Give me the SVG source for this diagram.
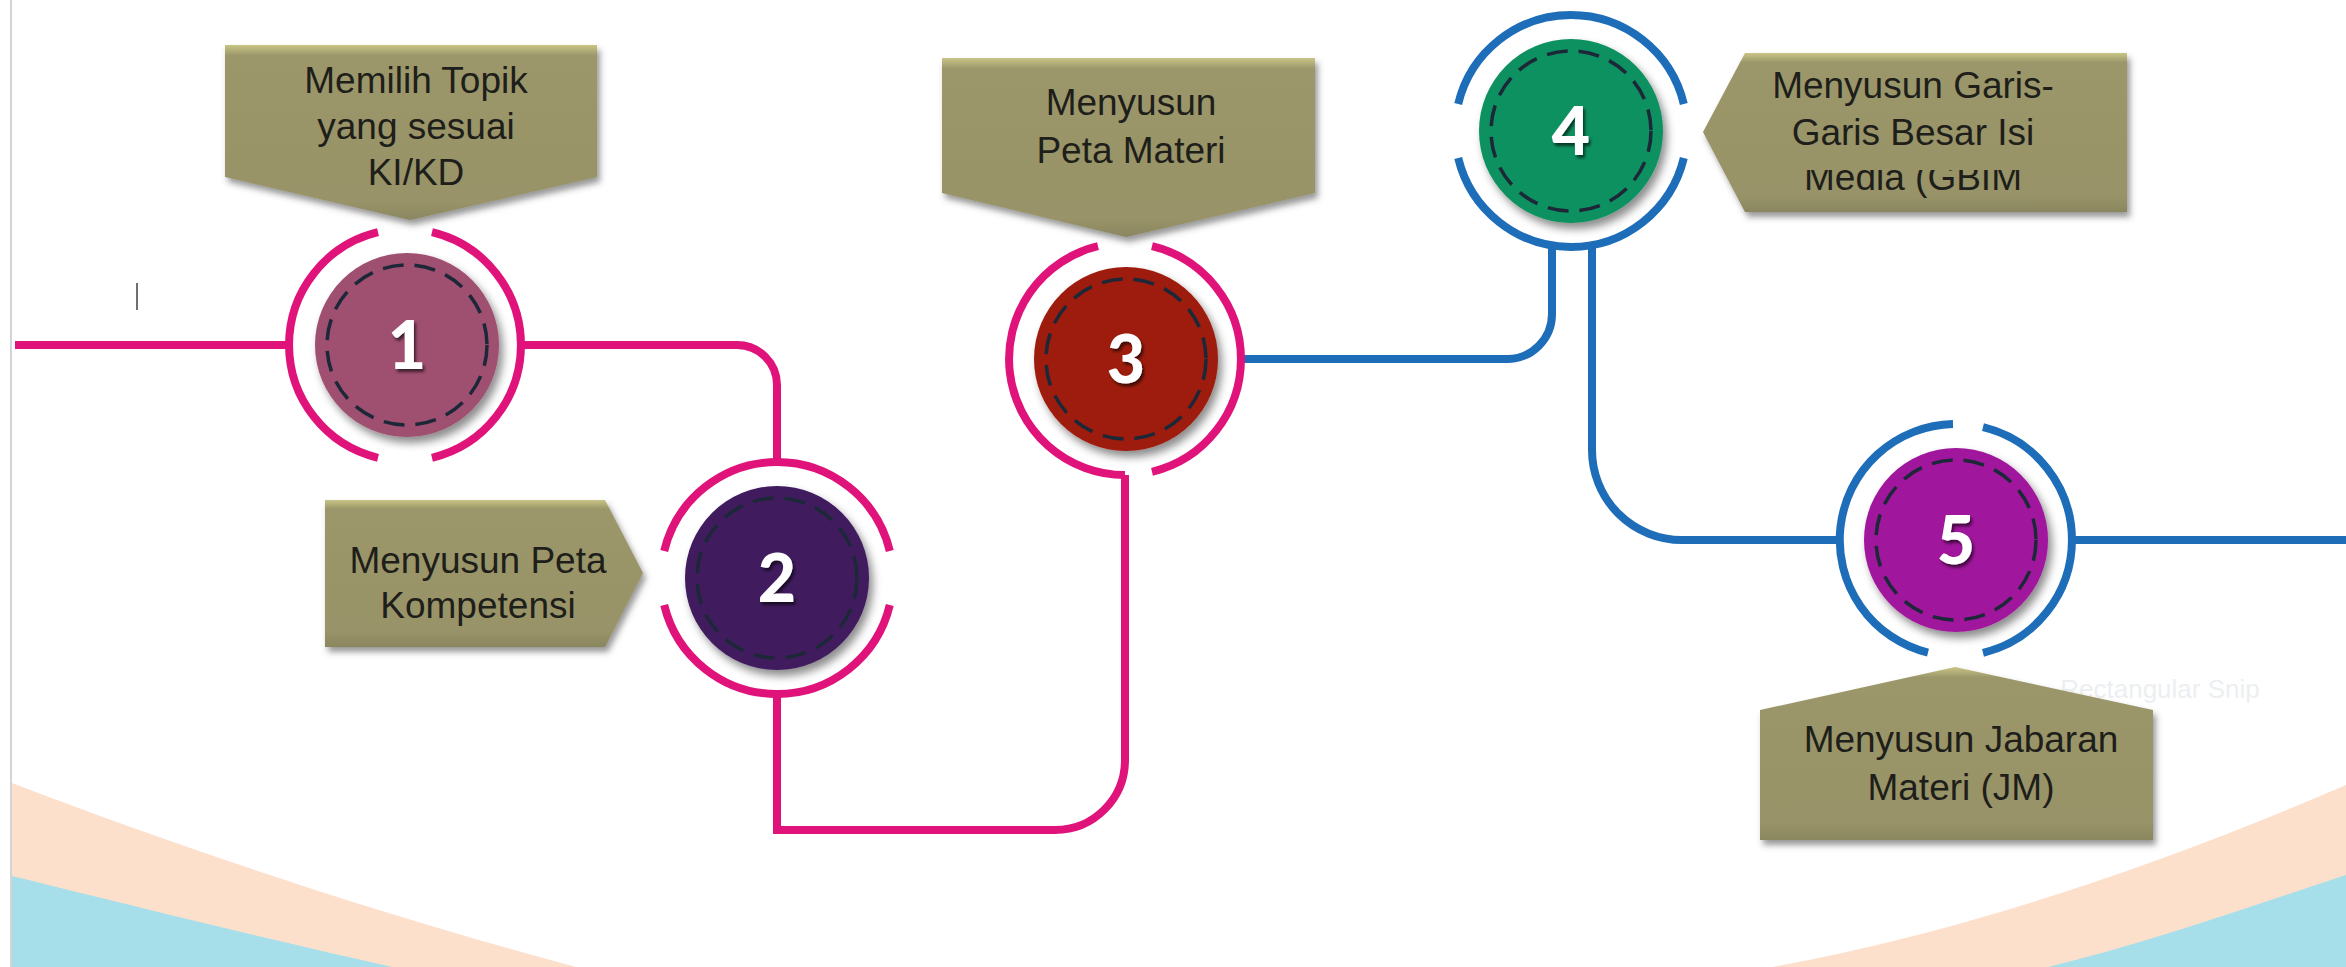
<svg xmlns="http://www.w3.org/2000/svg" width="2346" height="967" viewBox="0 0 2346 967">
<defs>
<style>
.pink{fill:none;stroke:#e0137b;stroke-width:8}
.blue{fill:none;stroke:#1d6db8;stroke-width:8}
.ring-p{fill:none;stroke:#e0137b;stroke-width:8}
.ring-b{fill:none;stroke:#1d6db8;stroke-width:8}
.dash{fill:none;stroke:#1c2838;stroke-width:3.5;stroke-dasharray:21 11}
.digit{font-family:Lato,"Open Sans","Liberation Sans",sans-serif;font-weight:900;font-size:66px;fill:#ffffff;text-anchor:middle}
.lbl{font-family:"Liberation Sans",Arial,sans-serif;font-size:37px;fill:#1e1e1a;text-anchor:middle}
.call{fill:url(#olive)}
</style>
<linearGradient id="olive" x1="0" y1="0" x2="0" y2="1">
<stop offset="0" stop-color="#c9c585"/>
<stop offset="0.06" stop-color="#9c976a"/>
<stop offset="0.9" stop-color="#989367"/>
<stop offset="1" stop-color="#8a8660"/>
</linearGradient>
<filter id="cshadow" x="-10%" y="-10%" width="125%" height="135%">
<feDropShadow dx="3" dy="5" stdDeviation="3" flood-color="#444" flood-opacity="0.55"/>
</filter>
<filter id="dshadow" x="-20%" y="-20%" width="150%" height="150%">
<feDropShadow dx="4" dy="6" stdDeviation="4" flood-color="#000" flood-opacity="0.45"/>
</filter>
<filter id="tshadow" x="-30%" y="-30%" width="170%" height="170%">
<feDropShadow dx="2" dy="3" stdDeviation="1.5" flood-color="#000" flood-opacity="0.6"/>
</filter>
<clipPath id="clip4"><rect x="1700" y="170" width="450" height="60"/></clipPath>
</defs>

<rect x="0" y="0" width="2346" height="967" fill="#ffffff"/>
<g id="background">
<path d="M 12 783 C 200 855 400 920 576 967 L 12 967 Z" fill="#fce0cc"/>
<path d="M 12 876 C 130 905 270 940 392 967 L 12 967 Z" fill="#a6dfe9"/>
<path d="M 2346 785 C 2150 870 1950 935 1772 967 L 2346 967 Z" fill="#fce0cc"/>
<path d="M 2346 875 C 2240 910 2140 945 2048 967 L 2346 967 Z" fill="#a6dfe9"/>
<line x1="11" y1="0" x2="11" y2="967" stroke="#d4d4d4" stroke-width="2"/>
<line x1="137" y1="283" x2="137" y2="310" stroke="#707070" stroke-width="2"/>
<text x="2160" y="698" font-family="'Liberation Sans',Arial,sans-serif" font-size="26" fill="#eceff1" text-anchor="middle">Rectangular Snip</text>
</g>

<g id="connectors">
<path class="pink" d="M 15 345 H 290"/>
<path class="pink" d="M 520 345 H 737 A 40 40 0 0 1 777 385 V 463"/>
<path class="pink" stroke-linejoin="miter" d="M 777 693 V 830 H 1055 A 70 70 0 0 0 1125 760 V 475"/>
<path class="blue" d="M 1240 359 H 1507 A 45 45 0 0 0 1552 314 V 246"/>
<path class="blue" d="M 1592 246 V 450 A 90 90 0 0 0 1682 540 H 1841"/>
<path class="blue" d="M 2071 540 H 2346"/>
</g>

<g id="node1">
<path class="call" filter="url(#cshadow)" d="M 225 45 H 597 V 177 L 410 220 L 225 177 Z"/>
<text class="lbl" x="416" y="93">Memilih Topik</text>
<text class="lbl" x="416" y="139">yang sesuai</text>
<text class="lbl" x="416" y="185">KI/KD</text>
<path class="ring-p" d="M 378 232.2 A 116 116 0 0 0 378 457.8"/>
<path class="ring-p" d="M 432 232.2 A 116 116 0 0 1 432 457.8"/>
<circle cx="407" cy="345" r="92" fill="#9f4f70" filter="url(#dshadow)"/>
<circle class="dash" cx="407" cy="345" r="80"/>
<text class="digit" x="407" y="369" filter="url(#tshadow)">1</text>
</g>

<g id="node2">
<path class="call" filter="url(#cshadow)" d="M 325 500 H 605 L 643 573 L 605 647 H 325 Z"/>
<text class="lbl" x="478" y="573">Menyusun Peta</text>
<text class="lbl" x="478" y="618">Kompetensi</text>
<path class="ring-p" d="M 664.2 551 A 116 116 0 0 1 889.8 551"/>
<path class="ring-p" d="M 664.2 605 A 116 116 0 0 0 889.8 605"/>
<circle cx="777" cy="578" r="92" fill="#3f1a5f" filter="url(#dshadow)"/>
<circle class="dash" cx="777" cy="578" r="80"/>
<text class="digit" x="777" y="602" filter="url(#tshadow)">2</text>
</g>

<g id="node3">
<path class="call" filter="url(#cshadow)" d="M 942 58 H 1315 V 193 L 1126 237 L 942 193 Z"/>
<text class="lbl" x="1131" y="115">Menyusun</text>
<text class="lbl" x="1131" y="163">Peta Materi</text>
<path class="ring-p" d="M 1098 246.2 A 116 116 0 0 0 1125 475"/>
<path class="ring-p" d="M 1152 246.2 A 116 116 0 0 1 1152 471.8"/>
<circle cx="1126" cy="359" r="92" fill="#9e1b0b" filter="url(#dshadow)"/>
<circle class="dash" cx="1126" cy="359" r="80" stroke="#1f3026"/>
<text class="digit" x="1126" y="383" filter="url(#tshadow)">3</text>
</g>

<g id="node4">
<path class="call" filter="url(#cshadow)" d="M 1703 132 L 1745 53 H 2127 V 212 H 1745 Z"/>
<text class="lbl" x="1913" y="98">Menyusun Garis-</text>
<text class="lbl" x="1913" y="145">Garis Besar Isi</text>
<text class="lbl" x="1913" y="190" clip-path="url(#clip4)">Media (GBIM</text>
<path class="ring-b" d="M 1458.2 104 A 116 116 0 0 1 1683.8 104"/>
<path class="ring-b" d="M 1458.2 158 A 116 116 0 0 0 1683.8 158"/>
<circle cx="1571" cy="131" r="92" fill="#0f9161" filter="url(#dshadow)"/>
<circle class="dash" cx="1571" cy="131" r="80"/>
<text class="digit" x="1571" y="155" filter="url(#tshadow)">4</text>
</g>

<g id="node5">
<path class="call" filter="url(#cshadow)" d="M 1955 667 L 2153 710 V 840 H 1760 V 710 Z"/>
<text class="lbl" x="1961" y="752">Menyusun Jabaran</text>
<text class="lbl" x="1961" y="800">Materi (JM)</text>
<path class="ring-b" d="M 1953 424 A 116 116 0 0 0 1928 652.6"/>
<path class="ring-b" d="M 1983 427.2 A 116 116 0 0 1 1983 652.8"/>
<circle cx="1956" cy="540" r="92" fill="#a0179c" filter="url(#dshadow)"/>
<circle class="dash" cx="1956" cy="540" r="80"/>
<text class="digit" x="1956" y="564" filter="url(#tshadow)">5</text>
</g>
</svg>
